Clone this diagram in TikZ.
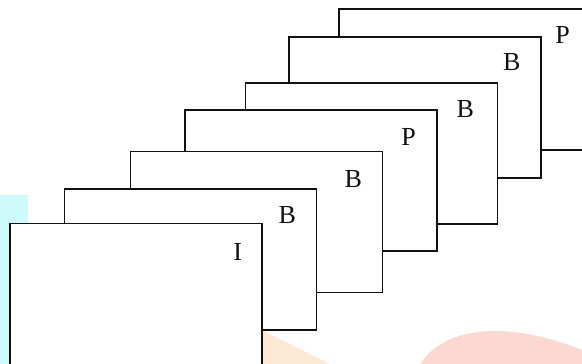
\documentclass[tikz,border=0pt]{standalone}
\usepackage{fontspec}
\setmainfont{Liberation Serif}
\usetikzlibrary{positioning}
\definecolor{ink}{HTML}{111111}
\definecolor{wmcyan}{HTML}{CDFBFB}
\definecolor{wmpeach}{HTML}{FDE9D6}
\definecolor{wmpink}{HTML}{FBD9D2}
\tikzset{
  framebox/.style={draw=ink, fill=white, line width=1.4pt, inner sep=0pt,
                   minimum width=252pt, minimum height=141pt},
  tagtext/.style={font=\fontsize{26}{30}\selectfont, text=ink, inner sep=0pt},
}
\begin{document}
\begin{tikzpicture}[x=1pt, y=-1pt]
  \useasboundingbox (0,0) rectangle (582,364);
  \clip (0,0) rectangle (582,364);
  % faint watermark behind the stack
  \fill[wmcyan] (0,195) rectangle (28,364);
  \fill[wmpeach] (262,330) -- (330,364) -- (262,364) -- cycle;
  \fill[wmpink] (420,364) .. controls (450,320) and (520,325) .. (582,350) -- (582,364) -- cycle;
  % frames, back to front
  \node[framebox] (fP2) at (465,79.5) {};
  \node[tagtext] (tP2) at ([shift={(-29,27)}]fP2.north east) {P};
  \node[framebox] (fB4) at (415,107.5) {};
  \node[tagtext] (tB4) at ([shift={(-30,26)}]fB4.north east) {B};
  \node[framebox] (fB3) at (371.5,153.5) {};
  \node[tagtext] (tB3) at ([shift={(-33,27)}]fB3.north east) {B};
  \node[framebox] (fP1) at (311,180.5) {};
  \node[tagtext] (tP1) at ([shift={(-29,28)}]fP1.north east) {P};
  \node[framebox] (fB2) at (256.5,222) {};
  \node[tagtext] (tB2) at ([shift={(-30,28)}]fB2.north east) {B};
  \node[framebox] (fB1) at (190.5,259.5) {};
  \node[tagtext] (tB1) at ([shift={(-30,27)}]fB1.north east) {B};
  \node[framebox] (fI) at (136,294) {};
  \node[tagtext] (tI) at ([shift={(-25,29)}]fI.north east) {I};
\end{tikzpicture}
\end{document}
